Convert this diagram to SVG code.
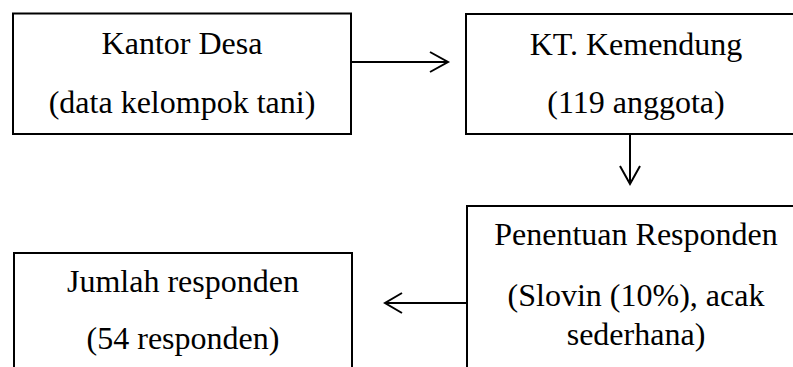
<svg xmlns="http://www.w3.org/2000/svg" width="793" height="367" viewBox="0 0 793 367">
<style>
.box{fill:#fff;stroke:#000;stroke-width:2}
.t{font-family:"Liberation Serif","Times New Roman",serif;font-size:32px;fill:#000;text-anchor:middle}
.c{fill:none;stroke:#000;stroke-width:2}
</style>
<rect width="793" height="367" fill="#fff"/>
<g id="kantor">
<rect class="box" x="13" y="13.5" width="338" height="120.5"/>
<text class="t" x="182" y="54">Kantor Desa</text>
<text class="t" x="182" y="113">(data kelompok tani)</text>
</g>
<g id="kt">
<rect class="box" x="466" y="14" width="340" height="120"/>
<text class="t" x="636" y="55">KT. Kemendung</text>
<text class="t" x="636" y="113">(119 anggota)</text>
</g>
<g id="penentuan">
<rect class="box" x="467" y="206" width="340" height="180"/>
<text class="t" x="636" y="245">Penentuan Responden</text>
<text class="t" x="636" y="306">(Slovin (10%), acak</text>
<text class="t" x="636" y="345">sederhana)</text>
</g>
<g id="jumlah">
<rect class="box" x="14" y="253" width="338" height="140"/>
<text class="t" x="183" y="292">Jumlah responden</text>
<text class="t" x="183" y="349">(54 responden)</text>
</g>
<g id="connectors">
<path class="c" d="M351 62H448M430 52L448 62L430 72"/>
<path class="c" d="M630 134V184M620 166L630 184L640 166"/>
<path class="c" d="M467 303H385M402 293L385 303L402 313"/>
</g>
</svg>
